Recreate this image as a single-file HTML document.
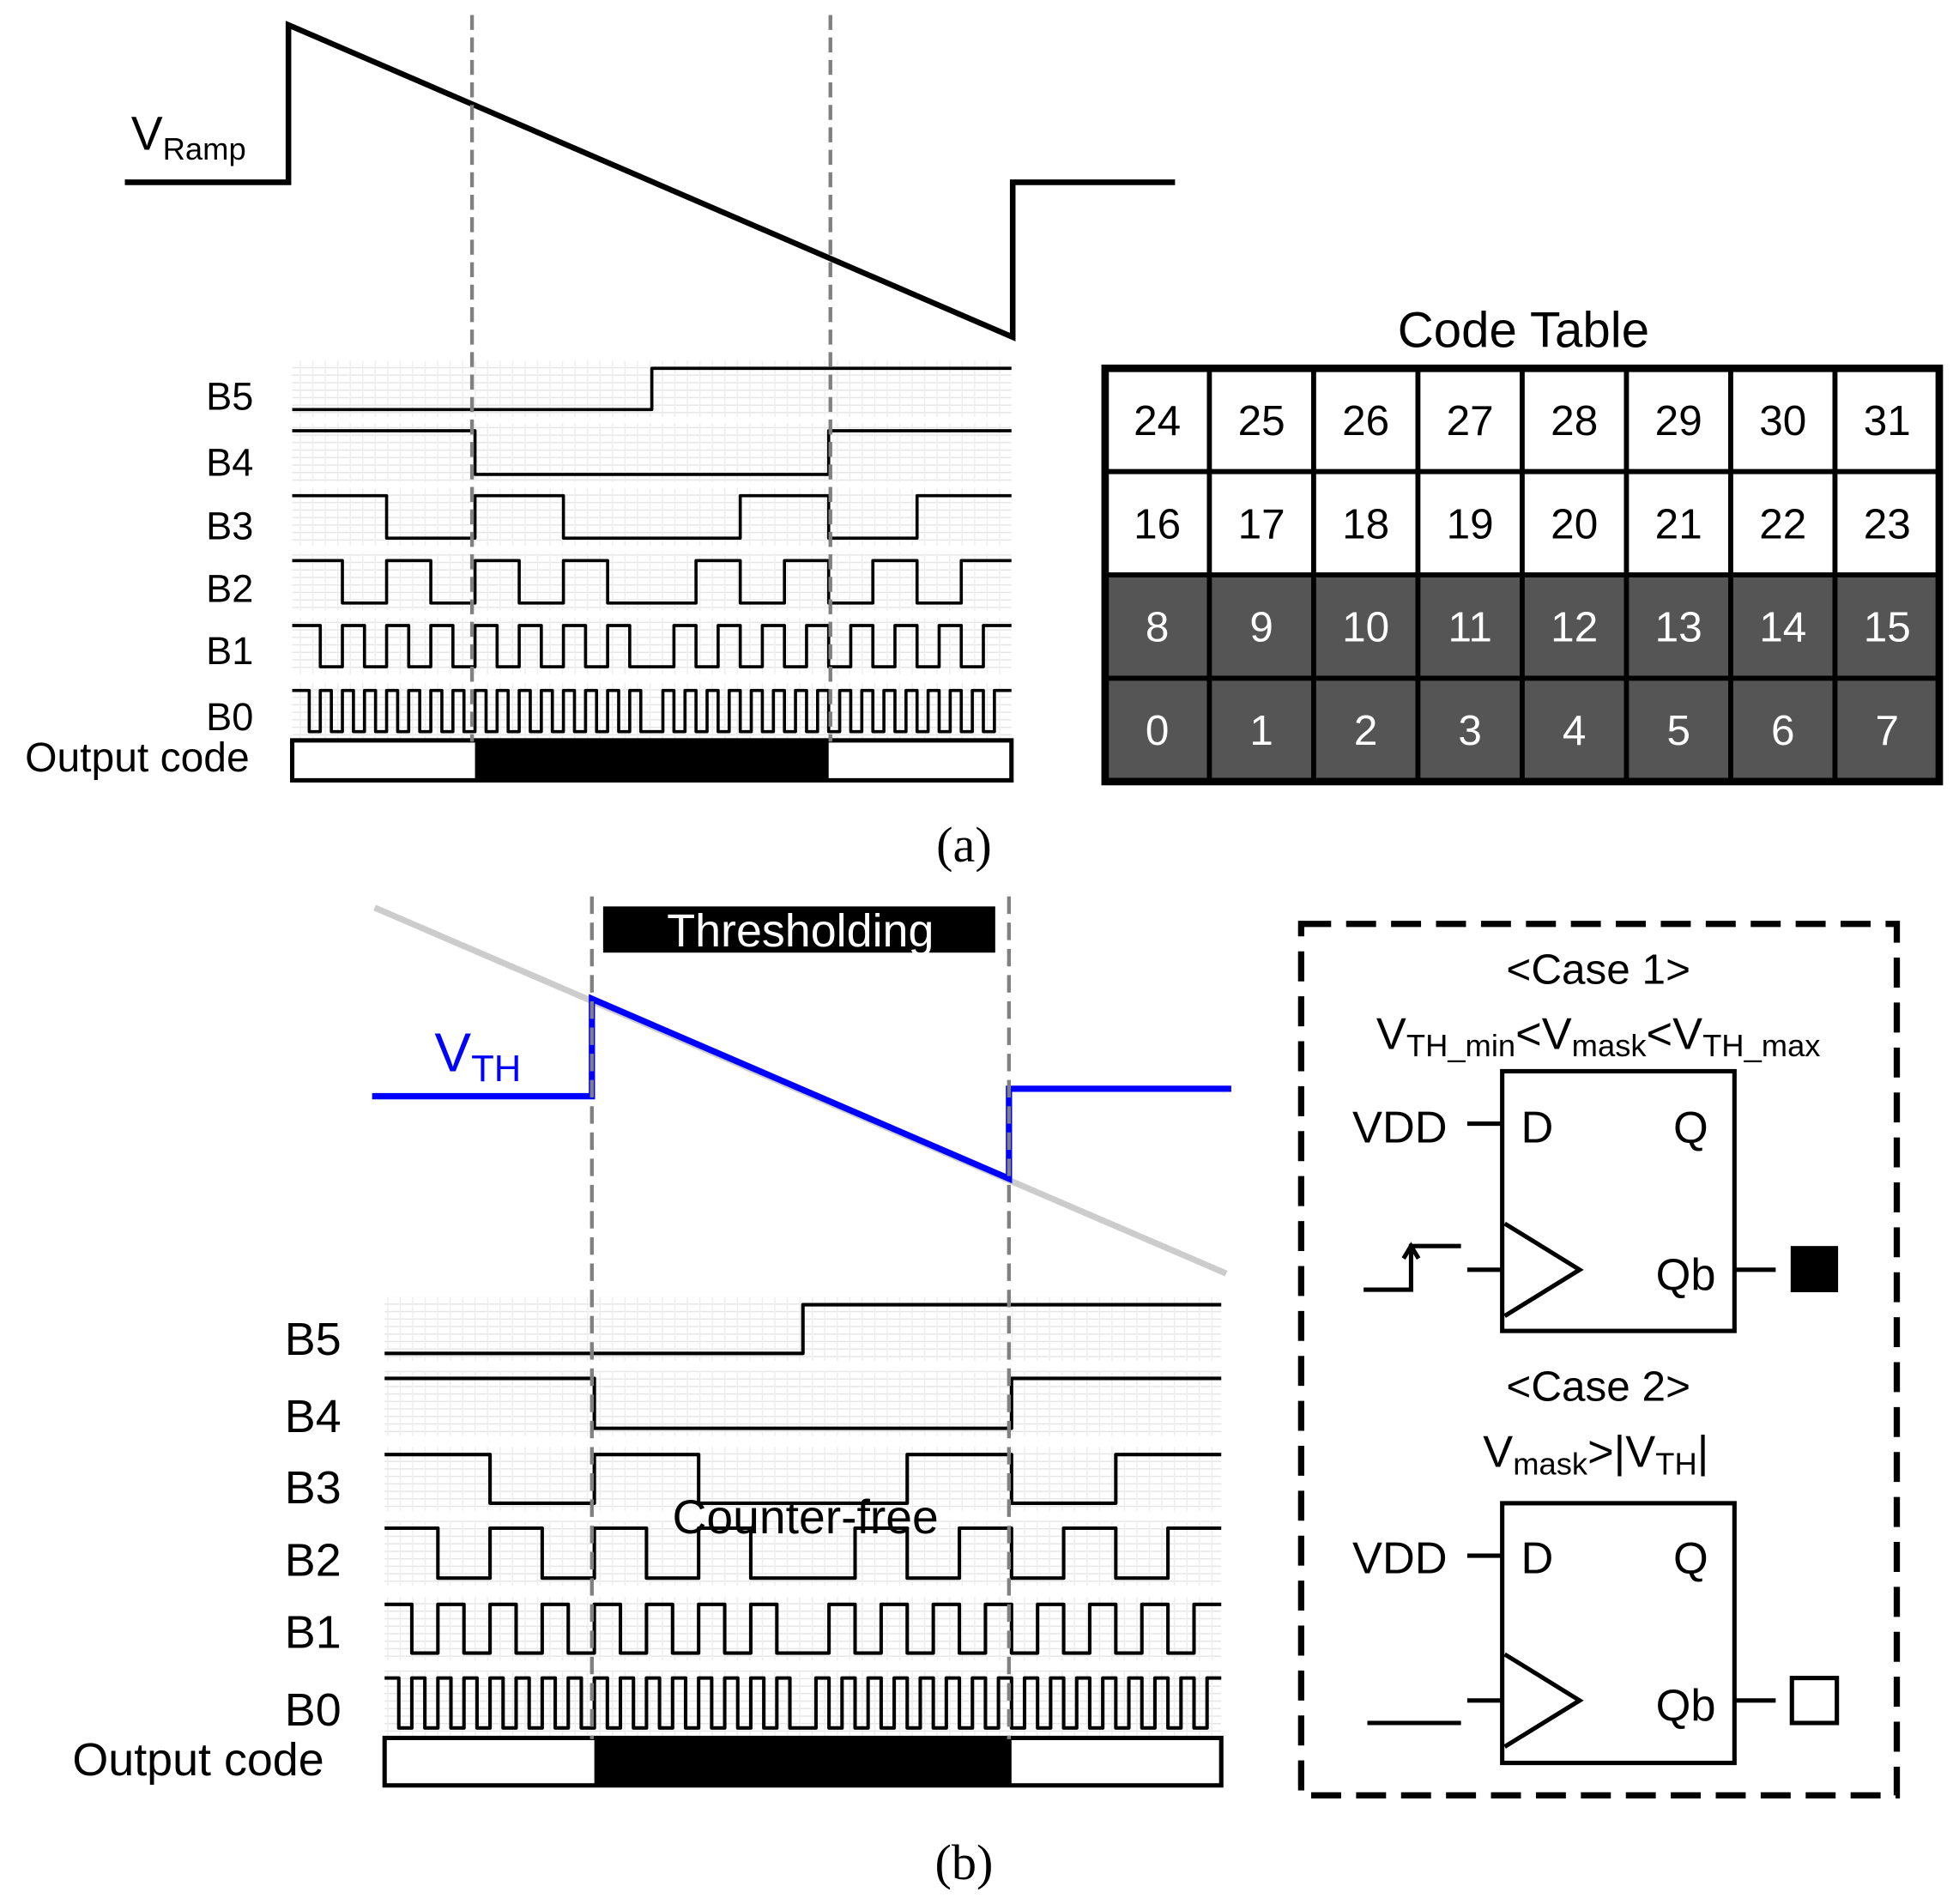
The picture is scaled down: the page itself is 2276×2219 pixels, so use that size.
<!DOCTYPE html>
<html><head><meta charset="utf-8"><style>
html,body{margin:0;padding:0;background:#fff;}
svg{display:block;}
text{font-family:"Liberation Sans",Arial,sans-serif;}
</style></head><body>
<svg id="s" xmlns="http://www.w3.org/2000/svg" width="2276" height="2219" viewBox="0 0 1564 1525" preserveAspectRatio="none">
<defs>
<pattern id="grid" width="10" height="6" patternUnits="userSpaceOnUse">
<rect x="0" y="0" width="10" height="1" fill="#e6e6e6"/>
<rect x="0" y="0" width="1" height="6" fill="#eeeeee"/>
</pattern>
</defs>
<rect width="1564" height="1525" fill="#fff"/>
<g id="bg"></g>
<!-- (a) ramp -->
<polyline points="100,146 231,146 231,20 811,270 811,146 941,146" fill="none" stroke="#000" stroke-width="4.5"/>
<text x="105" y="120" font-size="38">V<tspan font-size="25" dy="8">Ramp</tspan></text>
<g id="wa"></g>
<line x1="378" y1="12" x2="378" y2="594" stroke="#808080" stroke-width="3" stroke-dasharray="12,6"/>
<line x1="665" y1="12" x2="665" y2="594" stroke="#808080" stroke-width="3" stroke-dasharray="12,6"/>
<g font-size="31">
<text x="165" y="328">B5</text><text x="165" y="381">B4</text><text x="165" y="432">B3</text>
<text x="165" y="482">B2</text><text x="165" y="532">B1</text><text x="165" y="585">B0</text>
<text x="20" y="618" font-size="33">Output code</text>
</g>
<!-- code table -->
<text x="1220" y="278" font-size="40" text-anchor="middle">Code Table</text>
<g id="tbl"></g>
<text x="772" y="690" font-size="40" text-anchor="middle" style="font-family:'Liberation Serif',serif">(a)</text>

<!-- (b) -->
<line x1="300" y1="727" x2="982" y2="1020" stroke="#cccccc" stroke-width="5"/>
<polyline points="298,878 474,878 474,800 808,944 808,872 986,872" fill="none" stroke="#0000ff" stroke-width="5"/>
<text x="348" y="858" font-size="44" fill="#0000ff">V<tspan font-size="30" dy="8">TH</tspan></text>
<rect x="483" y="726" width="314" height="37" fill="#000"/>
<text x="641" y="758" font-size="37" fill="#fff" text-anchor="middle">Thresholding</text>
<g id="wb"></g>
<line x1="474" y1="718" x2="474" y2="1393" stroke="#808080" stroke-width="3" stroke-dasharray="14,7"/>
<line x1="808" y1="718" x2="808" y2="1393" stroke="#808080" stroke-width="3" stroke-dasharray="14,7"/>
<text x="645" y="1228" font-size="38" text-anchor="middle">Counter-free</text>
<g font-size="37">
<text x="228" y="1085">B5</text><text x="228" y="1147">B4</text><text x="228" y="1204">B3</text>
<text x="228" y="1262">B2</text><text x="228" y="1320">B1</text><text x="228" y="1382">B0</text>
<text x="58" y="1422">Output code</text>
</g>
<text x="772" y="1505" font-size="40" text-anchor="middle" style="font-family:'Liberation Serif',serif">(b)</text>

<!-- dashed box -->
<rect x="1042" y="740" width="477" height="698" fill="none" stroke="#000" stroke-width="5" stroke-dasharray="24,12"/>
<text x="1280" y="788" font-size="34" text-anchor="middle">&lt;Case 1&gt;</text>
<text x="1280" y="840" font-size="36" text-anchor="middle">V<tspan font-size="25" dy="6">TH_min</tspan><tspan dy="-6">&lt;V</tspan><tspan font-size="25" dy="6">mask</tspan><tspan dy="-6">&lt;V</tspan><tspan font-size="25" dy="6">TH_max</tspan></text>
<g stroke="#000" stroke-width="3.5" fill="none">
<rect x="1203" y="858" width="186" height="208"/>
<polyline points="1205,980 1265,1017 1205,1054"/>
<line x1="1175" y1="900" x2="1203" y2="900"/>
<line x1="1175" y1="1017" x2="1203" y2="1017"/>
<polyline points="1092,1033 1130,1033 1130,998 1170,998"/>
<polyline points="1124,1008 1130,998 1136,1008"/>
<line x1="1390" y1="1017" x2="1422" y2="1017"/>
<rect x="1203" y="1204" width="186" height="208"/>
<polyline points="1205,1325 1265,1362 1205,1399"/>
<line x1="1175" y1="1246" x2="1203" y2="1246"/>
<line x1="1175" y1="1362" x2="1203" y2="1362"/>
<line x1="1095" y1="1380" x2="1170" y2="1380"/>
<line x1="1390" y1="1362" x2="1422" y2="1362"/>
<rect x="1435" y="1344" width="36" height="36"/>
</g>
<rect x="1434" y="998" width="38" height="37" fill="#000"/>
<g font-size="36">
<text x="1083" y="915">VDD</text><text x="1218" y="915">D</text><text x="1340" y="915">Q</text><text x="1326" y="1033">Qb</text>
<text x="1083" y="1260">VDD</text><text x="1218" y="1260">D</text><text x="1340" y="1260">Q</text><text x="1326" y="1378">Qb</text>
</g>
<text x="1280" y="1122" font-size="34" text-anchor="middle">&lt;Case 2&gt;</text>
<text x="1278" y="1175" font-size="36" text-anchor="middle">V<tspan font-size="25" dy="6">mask</tspan><tspan dy="-6">&gt;|V</tspan><tspan font-size="25" dy="6">TH</tspan><tspan dy="-6">|</tspan></text>
</svg>
<script>
var NS="http://www.w3.org/2000/svg";
function el(p,t,a){var e=document.createElementNS(NS,t);for(var k in a)e.setAttribute(k,a[k]);p.appendChild(e);return e;}
function waves(g,x0,x1,xm,u,rows,sw,box){
  var bg=document.getElementById('bg');
  for(var r=0;r<rows.length;r++){
    var k=rows[r][0],yh=rows[r][1],yl=rows[r][2];
    el(bg,'rect',{x:x0,y:yh-6,width:x1-x0,height:yl-yh+12,fill:'url(#grid)'});
    var bounds=[x0];
    var jmin=Math.ceil((x0-xm)/u),jmax=Math.floor((x1-xm)/u);
    for(var j=jmin;j<=jmax;j++){var b=xm+j*u;if(b>x0+0.01&&b<x1-0.01)bounds.push(b);}
    bounds.push(x1);
    var d='',prev=null;
    for(var i=0;i<bounds.length-1;i++){
      var a=bounds[i],b=bounds[i+1],mid=(a+b)/2;
      var n=Math.min(31,Math.floor(Math.abs(mid-xm)/u));
      var v=(k==5)?(mid>xm?1:0):((n>>k)&1);
      var y=v?yh:yl;
      if(prev===null){d='M'+a+','+y;}
      else if(v!==prev){d+=' L'+a+','+(prev?yh:yl)+' L'+a+','+y;}
      prev=v;
    }
    d+=' L'+x1+','+(prev?yh:yl);
    el(g,'path',{d:d,fill:'none',stroke:'#000','stroke-width':sw,'stroke-linejoin':'round'});
  }
  el(g,'rect',{x:x0,y:box[0],width:x1-x0,height:box[1]-box[0],fill:'#fff',stroke:'#000','stroke-width':3.5});
  el(g,'rect',{x:xm-16*u,y:box[0],width:32*u,height:box[1]-box[0],fill:'#000'});
}
waves(document.getElementById('wa'),234,810,522,8.85,
 [[5,295,328],[4,345,380],[3,397,431],[2,449,483],[1,501,534],[0,553,586]],2.5,[593,625]);
waves(document.getElementById('wb'),308,978,643,10.44,
 [[5,1045,1084],[4,1104,1144],[3,1165,1204],[2,1224,1264],[1,1285,1324],[0,1344,1384]],2.8,[1392,1430]);
var t=document.getElementById('tbl');
var X0=885,Y0=295,cw=83.5,rh=82.75;
for(var r=0;r<4;r++){for(var c=0;c<8;c++){
  var dark=r>=2;
  el(t,'rect',{x:X0+c*cw,y:Y0+r*rh,width:cw,height:rh,fill:dark?'#555':'#fff',stroke:'#000','stroke-width':4});
  var num=(3-r)*8+c;
  var tx=el(t,'text',{x:X0+c*cw+cw/2,y:Y0+r*rh+rh/2+12,'font-size':34,'text-anchor':'middle',fill:dark?'#fff':'#000'});
  tx.textContent=num;
}}
el(t,'rect',{x:X0,y:Y0,width:8*cw,height:4*rh,fill:'none',stroke:'#000','stroke-width':6});
</script>
</body></html>
